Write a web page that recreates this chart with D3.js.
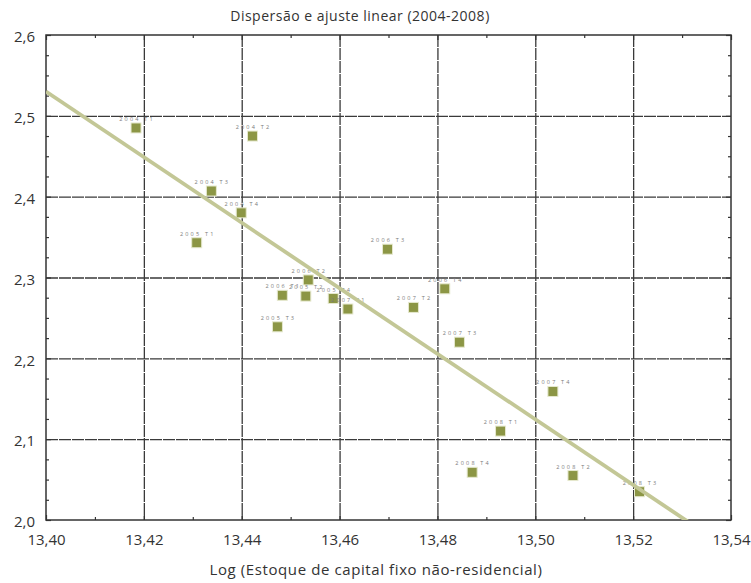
<!DOCTYPE html>
<html>
<head>
<meta charset="utf-8">
<script src="https://cdn.jsdelivr.net/npm/d3@7/dist/d3.min.js"></script>
<style>
  body { margin: 0; background: #fff; }
  text { font-family: "Open Sans", "Noto Sans", sans-serif; fill: #333; }
</style>
</head>
<body>
<svg id="chart" width="751" height="583"></svg>
<script>
// Quarters and their values
var quarters = ["2004 T1", "2004 T2", "2004 T3", "2004 T4",
                "2005 T1", "2005 T2", "2005 T3", "2005 T4",
                "2006 T1", "2006 T2", "2006 T3", "2006 T4",
                "2007 T1", "2007 T2", "2007 T3", "2007 T4",
                "2008 T1", "2008 T2", "2008 T3", "2008 T4"];
var logCapital = [13.4184, 13.4422, 13.4338, 13.4399,
                  13.4308, 13.4531, 13.4473, 13.4587,
                  13.4483, 13.4536, 13.4698, 13.4815,
                  13.4617, 13.4751, 13.4845, 13.5036,
                  13.4929, 13.5077, 13.5213, 13.4871];
var yValue = [2.485, 2.475, 2.407, 2.380,
              2.343, 2.277, 2.239, 2.274,
              2.278, 2.297, 2.335, 2.286,
              2.261, 2.263, 2.220, 2.159,
              2.110, 2.055, 2.035, 2.059];

// Linear fit y = a + b*x
var fitIntercept = 56.867;
var fitSlope = -4.055;

var xTicks = [13.40, 13.42, 13.44, 13.46, 13.48, 13.50, 13.52, 13.54];
var xMinor = [13.41, 13.43, 13.45, 13.47, 13.49, 13.51, 13.53];
var yTicks = [2.0, 2.1, 2.2, 2.3, 2.4, 2.5, 2.6];
var yMinor = [2.025, 2.05, 2.075, 2.125, 2.15, 2.175, 2.225, 2.25, 2.275,
              2.325, 2.35, 2.375, 2.425, 2.45, 2.475, 2.525, 2.55, 2.575];

var margin = { left: 46, top: 35, right: 20, bottom: 63 };
var width = 751 - margin.left - margin.right;
var height = 583 - margin.top - margin.bottom;

var locale = d3.formatLocale({ decimal: ",", thousands: ".", grouping: [3], currency: ["R$", ""] });
var fmtX = locale.format(".2f");
var fmtY = locale.format(".1f");

var xScale = d3.scaleLinear().domain([13.40, 13.54]).range([0, width]);
var yScale = d3.scaleLinear().domain([2.0, 2.6]).range([height, 0]);

var svg = d3.select("#chart");

svg.append("text")
  .attr("x", 360)
  .attr("y", 21)
  .attr("text-anchor", "middle")
  .style("font-size", "14px")
  .style("letter-spacing", "0.5px")
  .text("Dispersão e ajuste linear (2004-2008)");

svg.append("text")
  .attr("x", 376)
  .attr("y", 575)
  .attr("text-anchor", "middle")
  .style("font-size", "15px")
  .style("letter-spacing", "0.6px")
  .text("Log (Estoque de capital fixo não-residencial)");

var g = svg.append("g")
  .attr("transform", "translate(" + margin.left + "," + margin.top + ")");

g.append("clipPath").attr("id", "plotclip")
  .append("rect").attr("width", width).attr("height", height);

// grid lines
g.append("g")
  .attr("class", "grid")
  .call(d3.axisBottom(xScale).tickValues(xTicks.slice(1, -1)).tickSize(height).tickFormat(""))
  .call(function (s) { s.select(".domain").remove(); });
g.append("g")
  .attr("class", "grid")
  .call(d3.axisLeft(yScale).tickValues(yTicks.slice(1, -1)).tickSize(-width).tickFormat(""))
  .call(function (s) { s.select(".domain").remove(); });
g.selectAll(".grid line")
  .attr("stroke", "#3a3a3a")
  .attr("stroke-width", 1.3)
  .attr("stroke-dasharray", "12,1");

// tick marks inside on all four sides
function ticks(axis, transform) {
  g.append("g")
    .attr("class", "tk")
    .attr("transform", transform)
    .call(axis)
    .call(function (s) { s.select(".domain").remove(); s.selectAll("text").remove(); });
}
ticks(d3.axisBottom(xScale).tickValues(xMinor).tickSize(-3), "translate(0," + height + ")");
ticks(d3.axisTop(xScale).tickValues(xMinor).tickSize(-3), "translate(0,0)");
ticks(d3.axisLeft(yScale).tickValues(yMinor).tickSize(-3), "translate(0,0)");
ticks(d3.axisRight(yScale).tickValues(yMinor).tickSize(-3), "translate(" + width + ",0)");
ticks(d3.axisBottom(xScale).tickValues(xTicks).tickSize(-5), "translate(0," + height + ")");
ticks(d3.axisTop(xScale).tickValues(xTicks).tickSize(-5), "translate(0,0)");
ticks(d3.axisLeft(yScale).tickValues(yTicks).tickSize(-5), "translate(0,0)");
ticks(d3.axisRight(yScale).tickValues(yTicks).tickSize(-5), "translate(" + width + ",0)");
g.selectAll(".tk line").attr("stroke", "#333").attr("stroke-width", 1.2);

// tick labels
g.append("g")
  .attr("class", "lbl")
  .attr("transform", "translate(0," + height + ")")
  .call(d3.axisBottom(xScale).tickValues(xTicks).tickSize(0).tickPadding(14).tickFormat(fmtX));
g.append("g")
  .attr("class", "lbl")
  .call(d3.axisLeft(yScale).tickValues(yTicks).tickSize(0).tickPadding(11).tickFormat(fmtY));
g.selectAll(".lbl .domain").remove();
g.selectAll(".lbl text")
  .attr("fill", "#333")
  .style("font-size", "15px")
  .style("font-family", "\"Open Sans\", \"Noto Sans\", sans-serif");
g.selectAll(".lbl").filter(function (d, i) { return i === 1; })
  .selectAll("text").attr("dy", "0.45em");

// plot frame
g.append("rect")
  .attr("width", width)
  .attr("height", height)
  .attr("fill", "none")
  .attr("stroke", "#333")
  .attr("stroke-width", 1.5);

// points
var data = quarters.map(function (q, i) {
  return { label: q, x: logCapital[i], y: yValue[i] };
});

g.selectAll(".pt")
  .data(data)
  .enter()
  .append("rect")
  .attr("class", "pt")
  .attr("x", function (d) { return xScale(d.x) - 5; })
  .attr("y", function (d) { return yScale(d.y) - 5; })
  .attr("width", 10)
  .attr("height", 10)
  .attr("fill", "#8c9645")
  .attr("stroke", "#e6e9cf")
  .attr("stroke-width", 1);

g.selectAll(".ptlabel")
  .data(data)
  .enter()
  .append("text")
  .attr("class", "ptlabel")
  .attr("x", function (d) { return xScale(d.x) + 1; })
  .attr("y", function (d) { return yScale(d.y) - 7; })
  .attr("text-anchor", "middle")
  .style("font-size", "5.5px")
  .style("letter-spacing", "2.2px")
  .style("fill", "#7a7a7a")
  .text(function (d) { return d.label; });

// fitted line
var fitLine = d3.line()
  .x(function (d) { return xScale(d); })
  .y(function (d) { return yScale(fitIntercept + fitSlope * d); });

g.append("path")
  .datum(xScale.domain())
  .attr("clip-path", "url(#plotclip)")
  .attr("d", fitLine)
  .attr("fill", "none")
  .attr("stroke", "#c3c796")
  .attr("stroke-width", 3.8);
</script>
</body>
</html>
